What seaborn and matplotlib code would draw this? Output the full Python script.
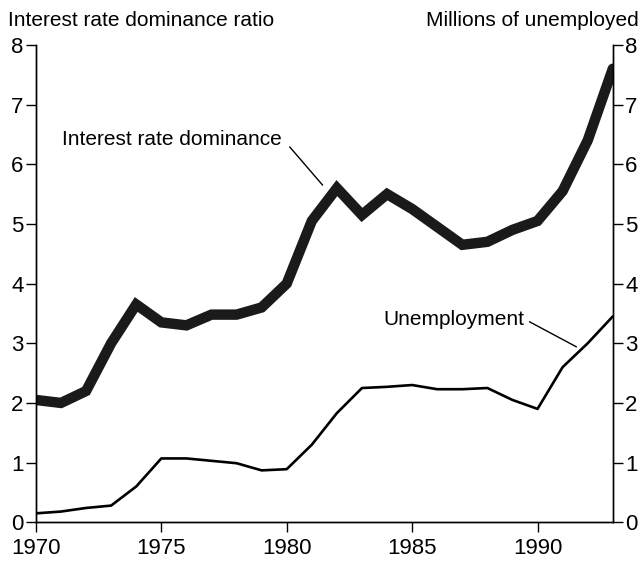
import pandas as pd
import seaborn as sns
import matplotlib.pyplot as plt

years = list(range(1970, 1994))
dominance = [2.05, 2.0, 2.2, 3.0, 3.65, 3.35, 3.3, 3.48, 3.48, 3.6, 4.0, 5.05,
             5.6, 5.15, 5.5, 5.25, 4.95, 4.65, 4.7, 4.9, 5.05, 5.55, 6.4, 7.6]
unemployment = [0.15, 0.18, 0.24, 0.28, 0.6, 1.07, 1.07, 1.03, 0.99, 0.87, 0.89, 1.3,
                 1.83, 2.25, 2.27, 2.3, 2.23, 2.23, 2.25, 2.05, 1.9, 2.6, 3.0, 3.45]
y_ticks = [0, 1, 2, 3, 4, 5, 6, 7, 8]
x_ticks = [1970, 1975, 1980, 1985, 1990]

df = pd.DataFrame({"year": years, "dominance": dominance, "unemployment": unemployment})

sns.set_theme(style="ticks")
plt.rcParams["font.family"] = ["Liberation Sans", "DejaVu Sans"]
plt.rcParams["text.color"] = "black"
plt.rcParams["xtick.major.size"] = 7
plt.rcParams["ytick.major.size"] = 7
plt.rcParams["xtick.major.width"] = 1
plt.rcParams["ytick.major.width"] = 1

fig = plt.figure(figsize=(6.41, 5.61), dpi=100)
ax = fig.add_axes([0.056, 0.069, 0.9, 0.851])
ax2 = ax.twinx()

sns.lineplot(data=df, x="year", y="dominance", ax=ax, color="#1a1a1a", linewidth=7.5,
             solid_joinstyle="miter")
sns.lineplot(data=df, x="year", y="unemployment", ax=ax2, color="black", linewidth=1.9)

for a in (ax, ax2):
    a.set_xlim(1970, 1993)
    a.set_ylim(0, 8)
    a.set_yticks(y_ticks)
    a.set_ylabel("")
    a.set_xlabel("")
    a.spines["top"].set_visible(False)
    for s in a.spines.values():
        s.set_linewidth(1)
        s.set_color("black")

ax.set_xticks(x_ticks)
ax.tick_params(axis="x", labelsize=16, colors="black", pad=4)
ax.tick_params(axis="y", labelsize=16, colors="black", pad=2)
ax2.tick_params(axis="y", labelsize=16, colors="black", pad=2)
ax2.spines["right"].set_visible(True)

fig.text(0.012, 0.964, "Interest rate dominance ratio", fontsize=15, va="center", ha="left")
fig.text(0.996, 0.964, "Millions of unemployed", fontsize=15, va="center", ha="right")

# labels with leader lines
ax.text(1979.8, 6.41, "Interest rate dominance", fontsize=15, ha="right", va="center")
ax.annotate("", xy=(1981.43, 5.65), xytext=(1980.12, 6.29),
            arrowprops=dict(arrowstyle="-", color="black", lw=1, shrinkA=0, shrinkB=0))
ax.text(1989.48, 3.39, "Unemployment", fontsize=15, ha="right", va="center")
ax.annotate("", xy=(1991.55, 2.94), xytext=(1989.68, 3.36),
            arrowprops=dict(arrowstyle="-", color="black", lw=1, shrinkA=0, shrinkB=0))

plt.savefig("out.png", dpi=100)
